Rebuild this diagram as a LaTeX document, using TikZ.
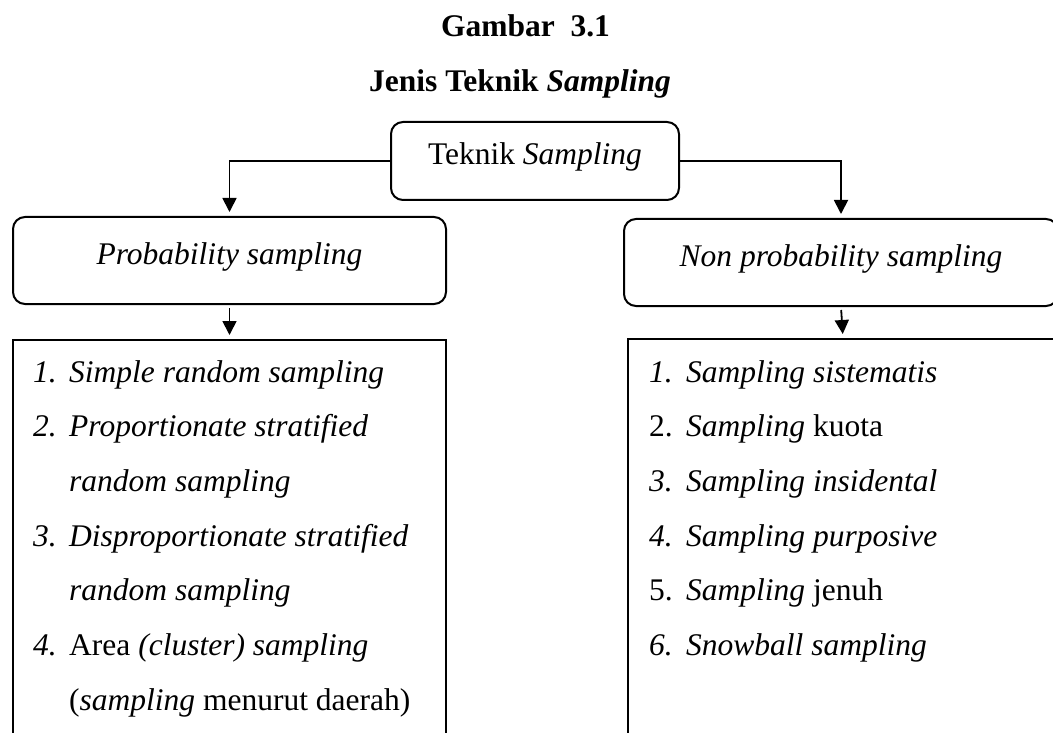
\documentclass[tikz,border=0pt]{standalone}
\usepackage{fontspec}
\setmainfont{Liberation Serif}
\usetikzlibrary{arrows.meta}
\begin{document}
\begin{tikzpicture}[x=1pt,y=-1pt,
  txt/.style={font=\fontsize{31.5pt}{38pt}\selectfont, inner sep=0pt},
  rbox/.style={draw, line width=2pt, rounded corners=12pt, inner sep=0pt,
    font=\fontsize{31.5pt}{38pt}\selectfont, text height=21pt, text depth=13pt},
  lbox/.style={draw, line width=2pt, inner sep=0pt},
  item/.style={txt, anchor=base west},
  arr/.style={line width=1.8pt, -{Triangle[length=14pt,width=14pt]}, shorten >=4pt}
]
\useasboundingbox (0,0) rectangle (1053,733);
\clip (0,0) rectangle (1053,733);

% titles
\node[txt, anchor=base, font=\fontsize{31.5pt}{38pt}\selectfont\bfseries] (t1) at (525.5,37) {Gambar\ \ 3.1};
\node[txt, anchor=base, font=\fontsize{31.5pt}{38pt}\selectfont\bfseries] (t2) at (520,92) {Jenis Teknik \textit{Sampling}};

% boxes
\node[rbox, minimum width=288pt, minimum height=78pt] (top) at (535,161) {Teknik \textit{Sampling}};
\node[rbox, minimum width=433pt, minimum height=87pt] (prob) at (229.5,260.5) {\textit{Probability sampling}};
\node[rbox, minimum width=434pt, minimum height=87pt] (nonprob) at (841,262.5) {\textit{Non probability sampling}};
\node[lbox, minimum width=433pt, minimum height=430pt] (llist) at (229.5,555) {};
\node[lbox, minimum width=430pt, minimum height=431pt] (rlist) at (843,554.5) {};

% connectors
\draw[arr] (top.west) -| (prob.north);
\draw[arr] (top.east) -| (nonprob.north);
\draw[arr, shorten <=3pt] (prob.south) -- (llist.north);
\draw[arr, shorten <=3pt] (nonprob.south) -- (rlist.north);

% left list
\node[item] (l1n) at (33,382) {\textit{1.}};
\node[item] (l1) at (69,382) {\textit{Simple random sampling}};
\node[item] (l2n) at (33,436.7) {\textit{2.}};
\node[item] (l2) at (69,436.7) {\textit{Proportionate stratified}};
\node[item] (l2b) at (69,491.4) {\textit{random sampling}};
\node[item] (l3n) at (33,546.1) {\textit{3.}};
\node[item] (l3) at (69,546.1) {\textit{Disproportionate stratified}};
\node[item] (l3b) at (69,600.8) {\textit{random sampling}};
\node[item] (l4n) at (33,655.5) {\textit{4.}};
\node[item] (l4) at (69,655.5) {Area \textit{(cluster) sampling}};
\node[item] (l4b) at (69,710.2) {(\textit{sampling} menurut daerah)};

% right list
\node[item] (r1n) at (649,382) {\textit{1.}};
\node[item] (r1) at (686,382) {\textit{Sampling sistematis}};
\node[item] (r2n) at (649,436.7) {2.};
\node[item] (r2) at (686,436.7) {\textit{Sampling} kuota};
\node[item] (r3n) at (649,491.4) {\textit{3.}};
\node[item] (r3) at (686,491.4) {\textit{Sampling insidental}};
\node[item] (r4n) at (649,546.1) {\textit{4.}};
\node[item] (r4) at (686,546.1) {\textit{Sampling purposive}};
\node[item] (r5n) at (649,600.8) {5.};
\node[item] (r5) at (686,600.8) {\textit{Sampling} jenuh};
\node[item] (r6n) at (649,655.5) {\textit{6.}};
\node[item] (r6) at (686,655.5) {\textit{Snowball sampling}};
\end{tikzpicture}
\end{document}
